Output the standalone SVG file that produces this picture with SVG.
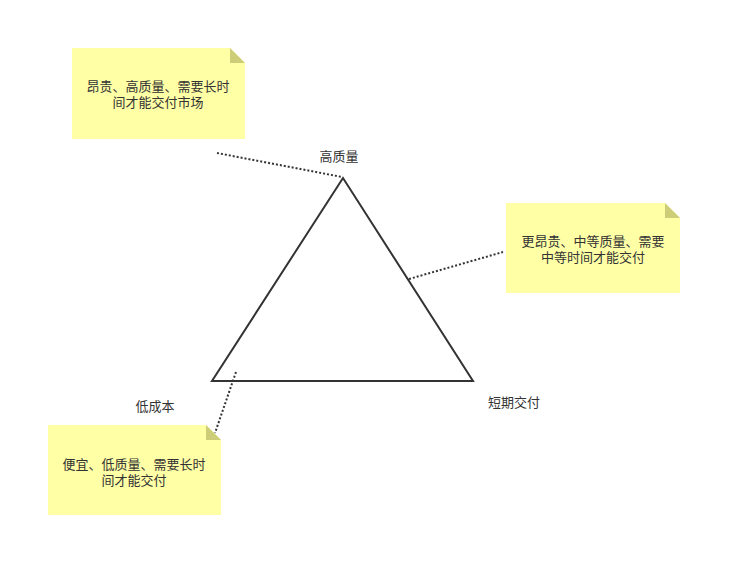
<svg xmlns="http://www.w3.org/2000/svg" width="742" height="578" viewBox="0 0 742 578">
<style>
.note{fill:#ffffa6;stroke:none}
.fold{fill:#cdcd78;stroke:none}
.t{font-family:"Liberation Sans","Noto Sans CJK SC",sans-serif;font-size:13px;fill:#333333;text-anchor:middle}
.dot{stroke:#333333;stroke-width:2;stroke-dasharray:2 2;fill:none}
</style>
<rect width="742" height="578" fill="#ffffff"/>
<g id="connectors">
<line class="dot" x1="217" y1="153" x2="342" y2="177"/>
<line class="dot" x1="409" y1="279" x2="503" y2="252"/>
<line class="dot" x1="236" y1="372" x2="215" y2="433"/>
</g>
<g id="triangle">
<polygon points="343,178 212,381 473,381" fill="none" stroke="#333333" stroke-width="2" stroke-linejoin="miter"/>
</g>
<g id="label-high-quality"><text class="t" x="339" y="161">高质量</text></g>
<g id="label-low-cost"><text class="t" x="155" y="411">低成本</text></g>
<g id="label-short-delivery"><text class="t" x="514" y="407">短期交付</text></g>
<g id="note1">
<polygon class="note" points="72,48 230,48 245,63 245,139 72,139"/>
<polygon class="fold" points="230,48 245,63 230,63"/>
<text class="t" x="158" y="91">昂贵、高质量、需要长时</text>
<text class="t" x="158" y="107">间才能交付市场</text>
</g>
<g id="note2">
<polygon class="note" points="506,203 665,203 680,218 680,293 506,293"/>
<polygon class="fold" points="665,203 680,218 665,218"/>
<text class="t" x="593" y="246">更昂贵、中等质量、需要</text>
<text class="t" x="593" y="262">中等时间才能交付</text>
</g>
<g id="note3">
<polygon class="note" points="48,425 206,425 221,440 221,515 48,515"/>
<polygon class="fold" points="206,425 221,440 206,440"/>
<text class="t" x="134" y="469">便宜、低质量、需要长时</text>
<text class="t" x="134" y="485">间才能交付</text>
</g>
</svg>
